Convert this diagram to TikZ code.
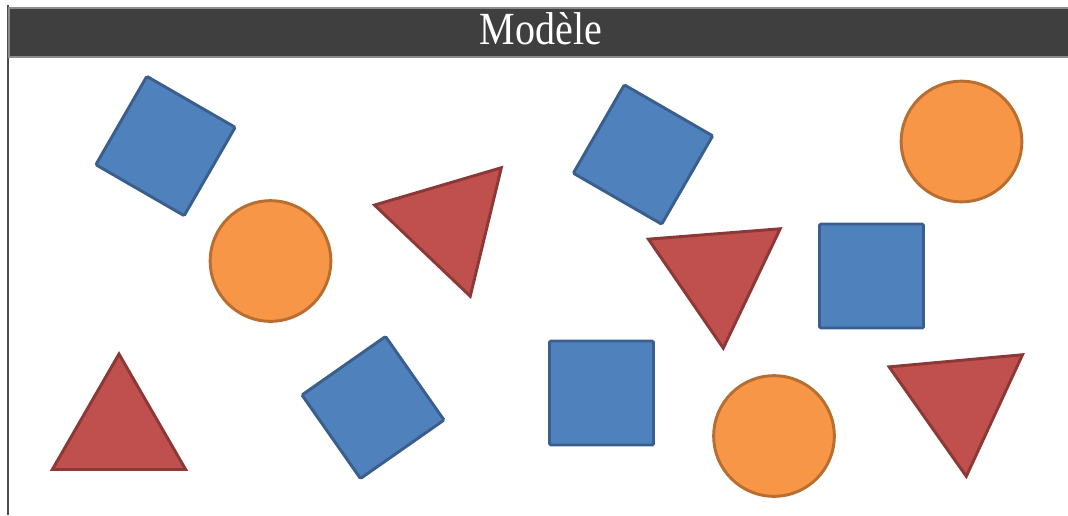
\documentclass[tikz,border=0pt]{standalone}
\usepackage{fontspec}
\setmainfont{Liberation Serif}
\usepackage{tikz}
\usetikzlibrary{shapes.geometric}

\definecolor{bleu}{HTML}{4F81BD}
\definecolor{bleuf}{HTML}{3A5F8C}
\definecolor{orangec}{HTML}{F79646}
\definecolor{orangef}{HTML}{B76E30}
\definecolor{rouge}{HTML}{C0504D}
\definecolor{rougef}{HTML}{8C3836}
\definecolor{gris}{HTML}{3F3F3F}

\begin{document}
\begin{tikzpicture}[x=0.75pt,y=-0.75pt]
		\tikzstyle{entete}=[rectangle,draw=black!45,fill=gris,line width=1.5pt,minimum width=830pt,minimum height=37pt,inner sep=0pt]
		\tikzstyle{titre}=[text=white,font=\fontsize{34.5pt}{40pt}\selectfont,inner sep=0pt,xscale=0.87]
		\tikzstyle{carre}=[rectangle,draw=bleuf,fill=bleu,line width=2.2pt,minimum size=76.5pt,inner sep=0pt,rounded corners=1pt]
		\tikzstyle{rond}=[circle,draw=orangef,fill=orangec,line width=2.2pt,minimum size=90.5pt,inner sep=0pt]
		\tikzstyle{triangle}=[regular polygon,regular polygon sides=3,draw=rougef,fill=rouge,line width=2.2pt,minimum size=115.5pt,inner sep=0pt]
		
		\useasboundingbox (0,0) rectangle (1068,515);
		
		% cadre
		\draw[black!70,line width=1.5pt] (8,5) -- (8,515);
		\node[entete,anchor=north west] (entete) at (8,7) {};
		\node[titre,anchor=base] (titre) at (541,44.5) {Modèle};
		
		% carres
		\foreach \n/\x/\y/\r in {1/165.5/146/-30,2/643/154.5/-30,3/373/407.5/35}
		\node[carre,rotate=\r] (c\n) at (\x,\y) {};
		\foreach \n/\x/\y in {4/871.5/276,5/601.5/393}
		\node[carre,minimum size=78pt] (c\n) at (\x,\y) {};
		
		% ronds
		\node[rond] (r1) at (270.5,261) {};
		\node[rond] (r2) at (961.5,141.5) {};
		\node[rond] (r3) at (774,436) {};
		
		% triangles
		\node[triangle] (t1) at (119,431) {};
		\node[triangle,rotate=-43.6,minimum size=114.5pt] (t2) at (448.7,223) {};
		\node[triangle,rotate=-55.5,minimum size=114.5pt] (t3) at (717.3,272) {};
		\node[triangle,rotate=-54.8,minimum size=116pt] (t4) at (959.3,399.3) {};
		
	\end{tikzpicture}
\end{document}
